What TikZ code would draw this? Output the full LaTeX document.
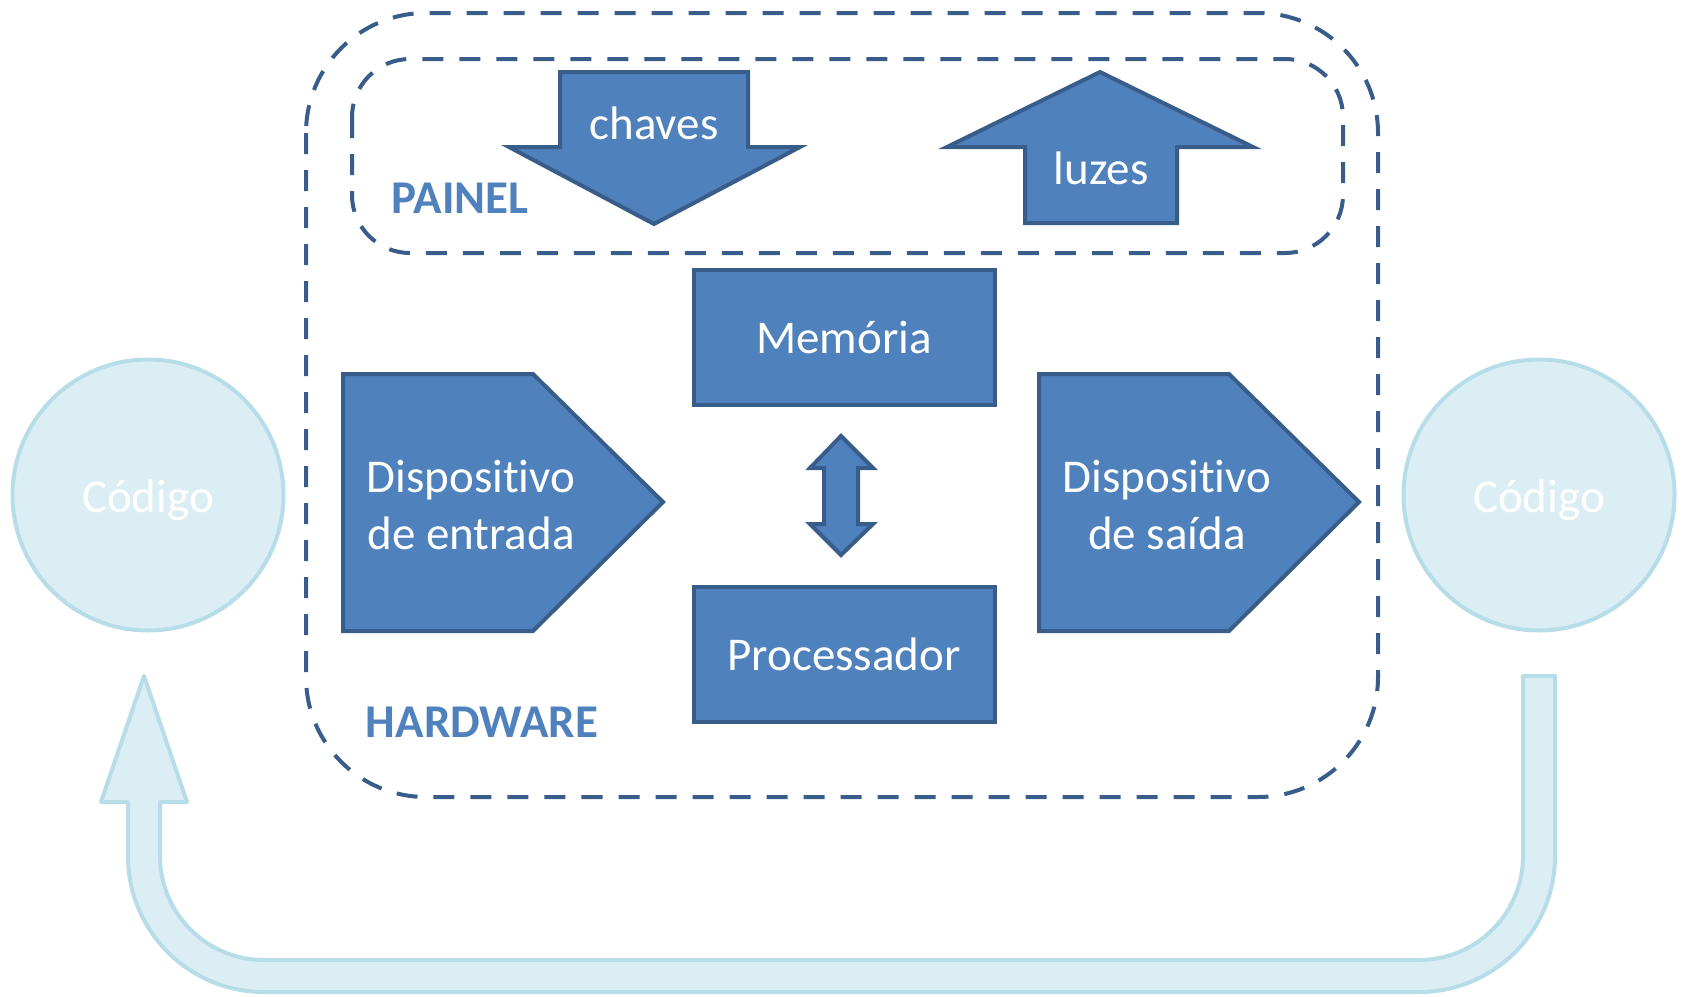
\documentclass[tikz,border=0pt]{standalone}
\usepackage{fontspec}
\setmainfont{Carlito}[Ligatures={NoCommon,NoRequired,NoContextual}]
\definecolor{blockfill}{HTML}{4F81BD}
\definecolor{blockline}{HTML}{385D8A}
\definecolor{codefill}{HTML}{DBEEF4}
\definecolor{codeline}{HTML}{B7DDE8}
\definecolor{tagblue}{HTML}{4F81BD}
\tikzset{
  blockshape/.style={fill=blockfill, draw=blockline, line width=4pt},
  blocktext/.style={text=white, font=\fontsize{47}{57}\selectfont, inner sep=0pt},
  boxnode/.style={blockshape, blocktext, minimum width=301pt, minimum height=135pt},
  frameline/.style={draw=blockline, line width=4pt, dash pattern=on 21pt off 16pt},
  tagtext/.style={text=tagblue, font=\fontsize{47}{57}\selectfont\bfseries, inner sep=0pt},
  codeshape/.style={fill=codefill, draw=codeline, line width=4pt},
  codecircle/.style={codeshape, circle, minimum size=271pt, inner sep=0pt},
}
\begin{document}
\begin{tikzpicture}[x=1pt,y=-1pt]
\useasboundingbox (0,0) rectangle (1683,996);

% dashed frames: hardware and panel
\draw[frameline, rounded corners=120pt] (306,13) rectangle (1378,797);
\draw[frameline, rounded corners=58pt] (352,59) rectangle (1343,253);

% panel: switches (down) and lights (up)
\draw[blockshape] (560,72) -- (748,72) -- (748,147) -- (800,147) -- (654,224)
  -- (509,147) -- (560,147) -- cycle;
\node[blocktext, anchor=base] (chaves) at (654,139) {chaves};
\draw[blockshape] (1100,72) -- (1253,147) -- (1177,147) -- (1177,223)
  -- (1025,223) -- (1025,147) -- (947,147) -- cycle;
\node[blocktext, anchor=base] (luzes) at (1101,184) {luzes};
\node[tagtext, anchor=base] (painel) at (460,213) {PAINEL};

% memory and processor
\node[boxnode] (mem) at (844,337) {Memória};
\node[boxnode] (cpu) at (844,654) {Processador};
\draw[blockshape] (841,436) -- (873,468) -- (858,468) -- (858,524) -- (873,524)
  -- (841,555) -- (810,524) -- (824,524) -- (824,468) -- (810,468) -- cycle;

% input and output devices
\draw[blockshape] (343,374) -- (533,374) -- (663,502) -- (533,631) -- (343,631) -- cycle;
\node[blocktext, align=center] (entrada) at (471,505) {Dispositivo\\de entrada};
\draw[blockshape] (1039,374) -- (1229,374) -- (1359,502) -- (1229,631) -- (1039,631) -- cycle;
\node[blocktext, align=center] (saida) at (1167,505) {Dispositivo\\de saída};

\node[tagtext, anchor=base] (hardware) at (482,737) {HARDWARE};

% code on both sides
\node[codecircle] (codeL) at (148,495) {};
\node[blocktext, anchor=base] (codeLtext) at (codeL.center |- 0,512) {Código};
\node[codecircle] (codeR) at (1539,495) {};
\node[blocktext, anchor=base] (codeRtext) at (codeR.center |- 0,512) {Código};

% return arrow from right code back to left code
\draw[codeshape, line join=round]
  (1523,676) -- (1523,856) arc[start angle=0, end angle=-90, radius=104pt]
  -- (264,960) arc[start angle=-90, end angle=-180, radius=104pt]
  -- (160,802) -- (187,802) -- (144,676) -- (101,802) -- (128,802)
  -- (128,856) arc[start angle=180, end angle=270, radius=136pt]
  -- (1419,992) arc[start angle=270, end angle=360, radius=136pt]
  -- (1555,676) -- cycle;
\end{tikzpicture}
\end{document}
